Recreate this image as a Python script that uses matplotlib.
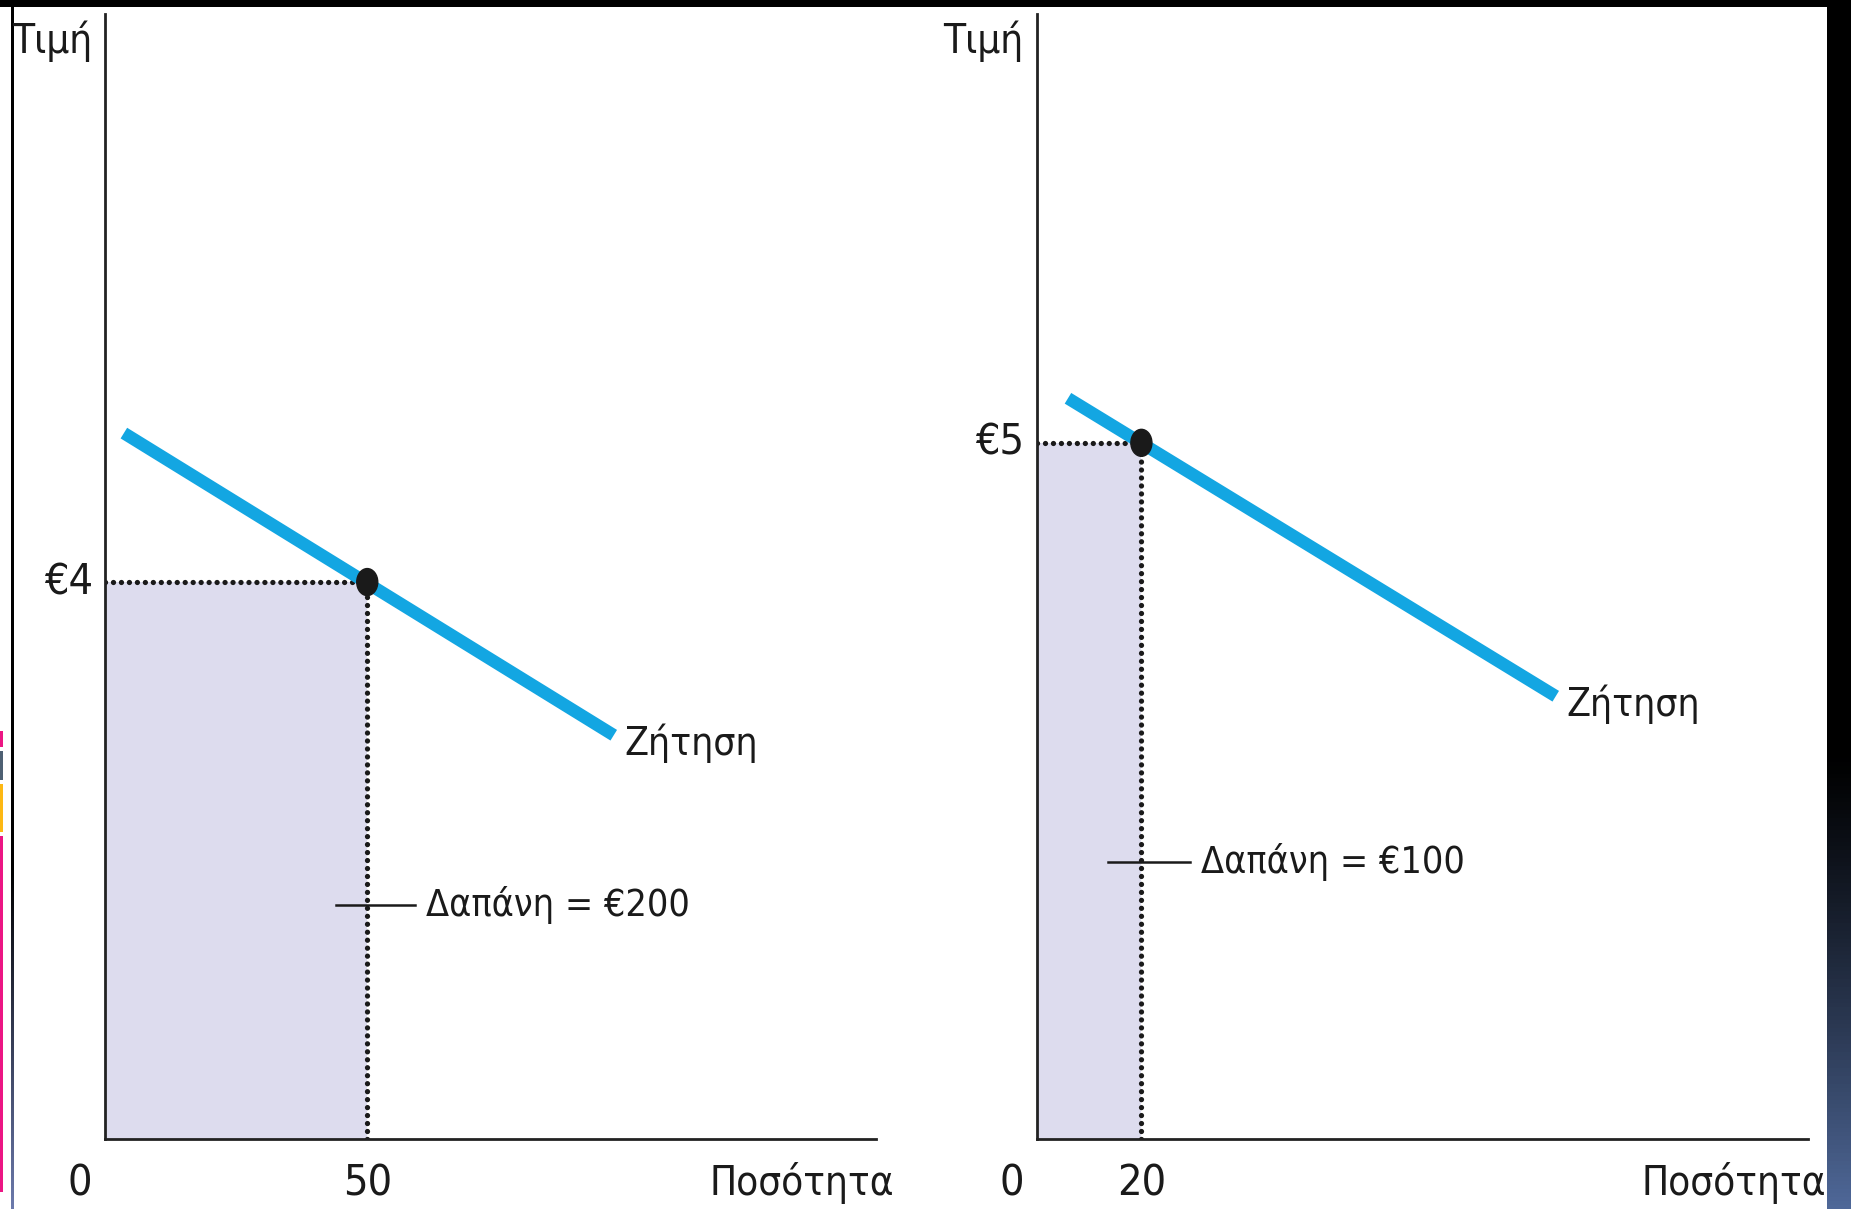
"""
Two panels: spending = price x quantity on a demand curve.
"""

import os
import numpy as np
import matplotlib
matplotlib.use("Agg")
import matplotlib.pyplot as plt
from matplotlib import font_manager
from matplotlib.font_manager import FontProperties
from matplotlib.patches import Ellipse, Rectangle
from matplotlib.colors import LinearSegmentedColormap


# =========================
#   DATA
# =========================

# left panel: price €4, quantity 50 -> spending €200
demand_q_left = [3.6, 97.0]
demand_p_left = [5.07, 2.90]
price_left = 4
qty_left = 50

# right panel: price €5, quantity 20 -> spending €100
demand_q_right = [6.0, 99.0]
demand_p_right = [5.32, 3.18]
price_right = 5
qty_right = 20

price_labels = ["€4", "€5"]
qty_labels = ["50", "20"]
spend_labels = ["Δαπάνη = €200", "Δαπάνη = €100"]
y_title = "Τιμή"
x_title = "Ποσότητα"
curve_title = "Ζήτηση"

W, H = 1851, 1209
PX = 0.72  # points per pixel at dpi 100

TXT = "#1a1a1a"
BLUE = "#13a6e2"
SHADE = "#dddcee"


def pick_font():
    # the original uses a narrow sans, so look for a condensed face first
    files = [f.fname for f in font_manager.fontManager.ttflist]
    wanted = ["notosans-extracondensed.ttf", "notosans-condensed.ttf",
              "liberationsansnarrow-regular.ttf", "dejavusanscondensed.ttf",
              "robotocondensed-regular.ttf", "notosans-semicondensed.ttf",
              "roboto-regular.ttf"]
    for w in wanted:
        for f in files:
            if os.path.basename(f).lower() == w:
                return FontProperties(fname=f)
    return FontProperties(family="DejaVu Sans")


FP = pick_font()


def fp(size):
    p = FP.copy()
    p.set_size(size)
    return p


def draw_background(fig):
    bg = fig.add_axes([0, 0, 1, 1], zorder=0)
    bg.axis("off")
    # top black band
    bg.add_patch(Rectangle((0, 0), W, 7, color="black", lw=0))
    # right dark band, black fading to slate blue near the bottom
    cmap = LinearSegmentedColormap.from_list("band", ["black", "#4f6898"])
    col = np.linspace(0, 1, 300).reshape(-1, 1)
    col = np.clip((col - 0.62) / 0.38, 0, 1) ** 1.2
    bg.imshow(col, extent=(1827, W, H, 0), aspect="auto", cmap=cmap, vmin=0, vmax=1)
    # thin left border line
    cmap2 = LinearSegmentedColormap.from_list("line", ["black", "#6c7aac"])
    col2 = np.clip((np.linspace(0, 1, 300).reshape(-1, 1) - 0.72) / 0.28, 0, 1)
    bg.imshow(col2, extent=(10.5, 12.5, H, 7), aspect="auto", cmap=cmap2, vmin=0, vmax=1)
    # coloured stripes at left edge
    for y0, y1, c in [(731, 747, "#ec1684"), (751, 780, "#4e6073"),
                      (784, 832, "#fdb813"), (836, 1192, "#ec1684")]:
        bg.add_patch(Rectangle((0, y0), 3, y1 - y0, color=c, lw=0))
    bg.set_xlim(0, W)
    bg.set_ylim(H, 0)


def draw_panel(fig, left_px, q_line, p_line, price, qty, price_lab, qty_lab,
               spend_lab, leader, qt_offset):
    ax = fig.add_axes([left_px / W, (H - 1139) / H, 771 / W, 1125 / H], zorder=2)
    ax.set_xlim(0, 147)
    ax.set_ylim(0, 8.08)
    ax.patch.set_alpha(0)
    for s in ["top", "right"]:
        ax.spines[s].set_visible(False)
    for s in ["left", "bottom"]:
        ax.spines[s].set_linewidth(2.0)
        ax.spines[s].set_color("#222222")
    ax.set_xticks([])
    ax.set_yticks([])

    # spending rectangle
    ax.fill_between([0, qty], 0, price, color=SHADE, lw=0, zorder=1)
    dot = dict(color=TXT, lw=3.8, linestyle=(0, (0.01, 1.5)),
               dash_capstyle="round", zorder=2)
    ax.plot([0, qty], [price, price], **dot)
    ax.plot([qty, qty], [0, price], **dot)

    # demand curve
    ax.plot(q_line, p_line, color=BLUE, lw=9, solid_capstyle="butt", zorder=3)
    ax.add_patch(Ellipse((qty, price), width=21 / 5.24, height=27 / 139.3,
                         color=TXT, zorder=4))

    # leader for spending label
    lx0, lx1, ly = leader
    ax.plot([lx0, lx1], [ly, ly], color=TXT, lw=1.8, zorder=3)
    ax.annotate(spend_lab, xy=(lx1, ly), xytext=(11 * PX, 0), textcoords="offset points",
                ha="left", va="center", fontproperties=fp(27), color=TXT)

    ax.annotate(curve_title, xy=(q_line[-1], p_line[-1]), xytext=(11 * PX, -8 * PX),
                textcoords="offset points", ha="left", va="center",
                fontproperties=fp(28), color=TXT)

    # axis labels
    ax.annotate(price_lab, xy=(0, price), xytext=(-12 * PX, 0), textcoords="offset points",
                ha="right", va="center", fontproperties=fp(31), color=TXT,
                annotation_clip=False)
    ax.annotate(qty_lab, xy=(qty, 0), xytext=(0, -23 * PX), textcoords="offset points",
                ha="center", va="top", fontproperties=fp(31), color=TXT,
                annotation_clip=False)
    ax.annotate("0", xy=(0, 0), xytext=(-25 * PX, -23 * PX), textcoords="offset points",
                ha="center", va="top", fontproperties=fp(31), color=TXT,
                annotation_clip=False)
    ax.annotate(x_title, xy=(1, 0), xycoords="axes fraction", xytext=(qt_offset * PX, -23 * PX),
                textcoords="offset points", ha="right", va="top",
                fontproperties=fp(29), color=TXT)
    ax.annotate(y_title, xy=(0, 1), xycoords="axes fraction", xytext=(-93 * PX, -6 * PX),
                textcoords="offset points", ha="left", va="top",
                fontproperties=fp(29), color=TXT)
    return ax


def main():
    fig = plt.figure(figsize=(W / 100, H / 100), dpi=100)
    fig.patch.set_facecolor("white")
    draw_background(fig)

    draw_panel(fig, 105, demand_q_left, demand_p_left, price_left, qty_left,
               price_labels[0], qty_labels[0], spend_labels[0],
               leader=(44.1, 59.2, 1.68), qt_offset=18)
    draw_panel(fig, 1036.5, demand_q_right, demand_p_right, price_right, qty_right,
               price_labels[1], qty_labels[1], spend_labels[1],
               leader=(13.7, 29.2, 1.99), qt_offset=19)

    fig.savefig("out.png", dpi=100)
    plt.close(fig)


if __name__ == "__main__":
    main()
